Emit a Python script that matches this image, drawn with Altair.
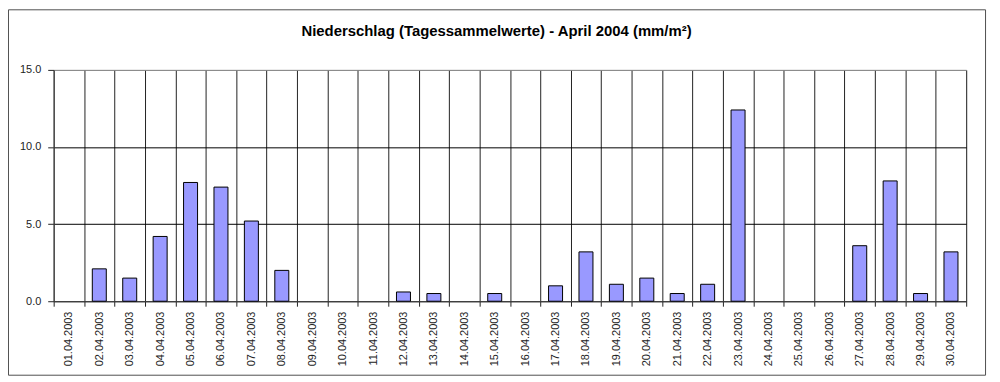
import altair as alt
import pandas as pd

dates = [
    "01.04.2003", "02.04.2003", "03.04.2003", "04.04.2003", "05.04.2003",
    "06.04.2003", "07.04.2003", "08.04.2003", "09.04.2003", "10.04.2003",
    "11.04.2003", "12.04.2003", "13.04.2003", "14.04.2003", "15.04.2003",
    "16.04.2003", "17.04.2003", "18.04.2003", "19.04.2003", "20.04.2003",
    "21.04.2003", "22.04.2003", "23.04.2003", "24.04.2003", "25.04.2003",
    "26.04.2003", "27.04.2003", "28.04.2003", "29.04.2003", "30.04.2003",
]
niederschlag = [
    0.0, 2.1, 1.5, 4.2, 7.7,
    7.4, 5.2, 2.0, 0.0, 0.0,
    0.0, 0.6, 0.5, 0.0, 0.5,
    0.0, 1.0, 3.2, 1.1, 1.5,
    0.5, 1.1, 12.4, 0.0, 0.0,
    0.0, 3.6, 7.8, 0.5, 3.2,
]
y_ticks = [0, 5, 10, 15]
title_text = "Niederschlag (Tagessammelwerte) - April 2004 (mm/m²)"

df = pd.DataFrame({"datum": dates, "mm": niederschlag})

FONT = "Liberation Sans"

x = alt.X(
    "datum:N",
    sort=dates,
    scale=alt.Scale(domain=dates, paddingInner=0, paddingOuter=0),
    axis=alt.Axis(
        title=None,
        labelAngle=-90,
        tickBand="extent",
        grid=True,
        gridColor="#222222",
        tickColor="#222222",
        tickSize=5,
        domainColor="#444444",
        labelFont=FONT,
        labelFontSize=11,
        labelColor="#222222",
        labelPadding=5,
    ),
)
y = alt.Y(
    "mm:Q",
    scale=alt.Scale(domain=[0, 15], nice=False),
    axis=alt.Axis(
        title=None,
        values=y_ticks,
        format=".1f",
        grid=True,
        gridColor={"condition": {"test": "datum.value === 15", "value": "#808080"}, "value": "#000000"},
        tickColor="#222222",
        tickSize=6,
        domainColor="#444444",
        labelFont=FONT,
        labelFontSize=11,
        labelColor="#222222",
        labelPadding=7,
    ),
)

bars = (
    alt.Chart(df)
    .transform_filter("datum.mm > 0")
    .mark_bar(color="#9999FF", stroke="black", strokeWidth=1, width=alt.RelativeBandSize(0.46))
    .encode(x=x, y=y)
)

one = pd.DataFrame({"f": [0]})

frame = (
    alt.Chart(one)
    .mark_rect(fillOpacity=0, stroke="#505050", strokeWidth=1)
    .encode(x=alt.value(-45.5), x2=alt.value(938.5), y=alt.value(-60.5), y2=alt.value(307.5))
)

title = (
    alt.Chart(one)
    .mark_text(font=FONT, fontSize=15, fontWeight="bold", color="#000000",
               align="center", baseline="alphabetic")
    .encode(x=alt.value(446), y=alt.value(-34), text=alt.value(title_text))
)

chart = (
    alt.layer(bars, frame, title)
    .properties(
        width=919,
        height=233,
        autosize="none",
        padding={"left": 46, "top": 61, "right": 26, "bottom": 78},
    )
    .configure_view(fill="#FFFFC0", stroke="#808080")
    .configure(background="white")
)

chart.save("out.html", embed_options={"renderer": "svg", "actions": False})
